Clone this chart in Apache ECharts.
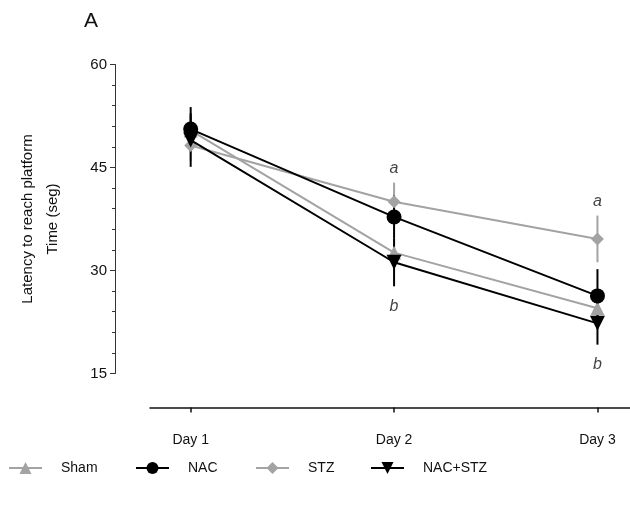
<!DOCTYPE html>
<html><head><meta charset="utf-8">
<script src="https://cdn.jsdelivr.net/npm/echarts@6/dist/echarts.min.js"></script>
<style>html,body{margin:0;padding:0;background:#fff}#c{width:630px;height:511px}</style>
</head><body><div id="c"></div>
<script>
const days = [1, 2, 3];
const dayLabels = ['Day 1', 'Day 2', 'Day 3'];
const seriesNames = ['Sham', 'NAC', 'STZ', 'NAC+STZ'];
const shamMean = [50.4, 32.6, 24.5];
const shamErr = [2.0, 2.2, 1.8];
const nacMean = [50.6, 37.8, 26.3];
const nacErr = [3.2, 3.1, 3.9];
const stzMean = [48.2, 40.0, 34.6];
const stzErr = [2.2, 2.8, 3.4];
const nacStzMean = [49.0, 31.2, 22.3];
const nacStzErr = [3.9, 3.5, 3.1];
const letterA = [null, 'a', 'a'];
const letterB = [null, 'b', 'b'];

const GRAY = '#a3a3a3', BLACK = '#000';
const FONT = 'Liberation Sans, Arial, sans-serif';

function pts(mean) { return days.map((d, i) => [d, mean[i]]); }
function errData(mean, err) { return days.map((d, i) => [d, mean[i] - err[i], mean[i] + err[i]]); }
function errSeries(name, mean, err, color, z) {
  return {
    type: 'custom', name: name + ' err', z: z, silent: true,
    data: errData(mean, err),
    renderItem: function (params, api) {
      const p1 = api.coord([api.value(0), api.value(1)]);
      const p2 = api.coord([api.value(0), api.value(2)]);
      return { type: 'line', shape: { x1: p1[0], y1: p1[1], x2: p2[0], y2: p2[1] },
        style: { stroke: color, lineWidth: 2 } };
    }
  };
}
function lineSeries(name, mean, color, symbol, size, z) {
  return {
    type: 'line', name: name, data: pts(mean), z: z,
    symbol: symbol, symbolSize: size, showAllSymbol: true,
    lineStyle: { color: color, width: 2 },
    itemStyle: { color: color, borderWidth: 0 },
    emphasis: { disabled: true }, animation: false
  };
}
function letterSeries(letters, mean, err, sign, pos, dist) {
  const data = [];
  days.forEach((d, i) => { if (letters[i]) data.push({ value: [d, mean[i] + sign * err[i]], lbl: letters[i] }); });
  return {
    type: 'scatter', symbolSize: 0, silent: true, data: data, z: 20,
    label: { show: true, position: pos, distance: dist, formatter: p => p.data.lbl,
      fontStyle: 'italic', fontSize: 16, color: '#111', fontFamily: FONT }
  };
}
const legendLefts = [8, 135, 255, 370];
function legendFor(i) {
  return {
    bottom: 36, left: legendLefts[i], padding: 0, itemWidth: 33, itemHeight: 15, itemGap: 0,
    textStyle: { fontSize: 14, color: '#111', fontFamily: FONT, padding: [0, 0, 0, 14] },
    data: [seriesNames[i]]
  };
}

const chart = echarts.init(document.getElementById('c'), null, { renderer: 'canvas' });
chart.setOption({
  animation: false,
  backgroundColor: '#fff',
  title: { text: 'A', left: 79, top: 6, textStyle: { fontSize: 21, fontWeight: 'normal', color: '#111', fontFamily: FONT } },
  grid: { left: 150, right: 0, top: 64.5, bottom: 137.5 },
  xAxis: {
    type: 'value', min: 0.8, max: 3.16, offset: 34,
    axisLine: { show: true, lineStyle: { color: '#111', width: 1.5 } },
    axisTick: { show: true, customValues: days, length: 5, lineStyle: { color: '#111', width: 1.5 } },
    axisLabel: { customValues: days, formatter: v => dayLabels[days.indexOf(v)] || '', fontSize: 14, color: '#111', fontFamily: FONT, margin: 26 },
    splitLine: { show: false }
  },
  yAxis: {
    type: 'value', min: 15, max: 60, interval: 15, offset: 35,
    name: 'Latency to reach platform\nTime (seg)', nameLocation: 'middle', nameRotate: 90, nameGap: 50,
    nameTextStyle: { fontSize: 15, lineHeight: 25, color: '#111', fontFamily: FONT },
    axisLine: { show: true, lineStyle: { color: '#333', width: 1 } },
    axisTick: { show: true, length: 5, lineStyle: { color: '#333' } },
    minorTick: { show: true, splitNumber: 5, length: 3, lineStyle: { color: '#333' } },
    axisLabel: { fontSize: 15, color: '#111', fontFamily: FONT, margin: 8 },
    splitLine: { show: false }
  },
  legend: [legendFor(0), legendFor(1), legendFor(2), legendFor(3)],
  series: [
    errSeries('Sham', shamMean, shamErr, GRAY, 1),
    errSeries('STZ', stzMean, stzErr, GRAY, 1),
    errSeries('NAC', nacMean, nacErr, BLACK, 2),
    errSeries('NAC+STZ', nacStzMean, nacStzErr, BLACK, 2),
    lineSeries('Sham', shamMean, GRAY, 'triangle', 14, 3),
    lineSeries('NAC', nacMean, BLACK, 'circle', 15, 4),
    lineSeries('STZ', stzMean, GRAY, 'diamond', 13, 3),
    lineSeries('NAC+STZ', nacStzMean, BLACK, 'path://M0,0 L10,0 L5,10 Z', 15, 4),
    letterSeries(letterA, stzMean, stzErr, 1, 'top', 6),
    letterSeries(letterB, nacStzMean, nacStzErr, -1, 'bottom', 12)
  ]
});
</script></body></html>
